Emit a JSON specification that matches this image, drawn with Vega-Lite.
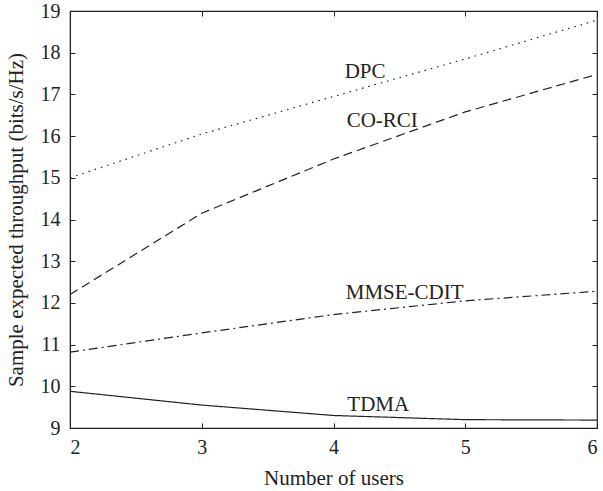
{
  "$schema": "https://vega.github.io/schema/vega-lite/v6.json",
  "width": 527,
  "height": 417,
  "autosize": {"type": "none"},
  "padding": {"left": 70, "top": 11, "right": 6, "bottom": 63},
  "background": "white",
  "config": {
    "font": "Liberation Serif",
    "view": {"stroke": "#222", "strokeWidth": 1.2},
    "axis": {
      "domainColor": "#222",
      "tickColor": "#222",
      "labelColor": "#222",
      "titleColor": "#222",
      "labelFont": "Liberation Serif",
      "titleFont": "Liberation Serif",
      "labelFontSize": 20,
      "titleFontSize": 21,
      "titleFontWeight": "normal",
      "grid": false,
      "tickSize": -5,
      "tickWidth": 1
    }
  },
  "datasets": {
    "curves": [
      {"users": 2, "throughput": 15.0, "scheme": "DPC"},
      {"users": 3, "throughput": 16.05, "scheme": "DPC"},
      {"users": 4, "throughput": 16.95, "scheme": "DPC"},
      {"users": 5, "throughput": 17.85, "scheme": "DPC"},
      {"users": 6, "throughput": 18.78, "scheme": "DPC"},
      {"users": 2, "throughput": 12.2, "scheme": "CO-RCI"},
      {"users": 3, "throughput": 14.15, "scheme": "CO-RCI"},
      {"users": 4, "throughput": 15.45, "scheme": "CO-RCI"},
      {"users": 5, "throughput": 16.58, "scheme": "CO-RCI"},
      {"users": 6, "throughput": 17.48, "scheme": "CO-RCI"},
      {"users": 2, "throughput": 10.82, "scheme": "MMSE-CDIT"},
      {"users": 3, "throughput": 11.28, "scheme": "MMSE-CDIT"},
      {"users": 4, "throughput": 11.72, "scheme": "MMSE-CDIT"},
      {"users": 5, "throughput": 12.05, "scheme": "MMSE-CDIT"},
      {"users": 6, "throughput": 12.28, "scheme": "MMSE-CDIT"},
      {"users": 2, "throughput": 9.88, "scheme": "TDMA"},
      {"users": 3, "throughput": 9.55, "scheme": "TDMA"},
      {"users": 4, "throughput": 9.3, "scheme": "TDMA"},
      {"users": 5, "throughput": 9.2, "scheme": "TDMA"},
      {"users": 6, "throughput": 9.19, "scheme": "TDMA"}
    ],
    "labels": [
      {"users": 4.24, "throughput": 17.54, "scheme": "DPC"},
      {"users": 4.37, "throughput": 16.36, "scheme": "CO-RCI"},
      {"users": 4.54, "throughput": 12.24, "scheme": "MMSE-CDIT"},
      {"users": 4.34, "throughput": 9.55, "scheme": "TDMA"}
    ]
  },
  "layer": [
    {
      "data": {"name": "curves"},
      "mark": {"type": "line", "color": "#222", "strokeWidth": 1.2},
      "encoding": {
        "x": {
          "field": "users", "type": "quantitative",
          "scale": {"domain": [2, 6], "nice": false, "zero": false},
          "axis": {"title": "Number of users", "values": [2, 3, 4, 5, 6], "format": "d", "labelPadding": 14, "titlePadding": 10}
        },
        "y": {
          "field": "throughput", "type": "quantitative",
          "scale": {"domain": [9, 19], "nice": false, "zero": false},
          "axis": {"title": "Sample expected throughput (bits/s/Hz)", "values": [9, 10, 11, 12, 13, 14, 15, 16, 17, 18, 19], "labelPadding": 15, "titlePadding": 14}
        },
        "strokeDash": {
          "field": "scheme", "type": "nominal",
          "scale": {
            "domain": ["DPC", "CO-RCI", "MMSE-CDIT", "TDMA"],
            "range": [[1.5, 5], [9, 5], [9, 4, 2, 4], [1, 0]]
          },
          "legend": null
        }
      }
    },
    {
      "data": {"name": "labels"},
      "mark": {"type": "text", "font": "Liberation Serif", "fontSize": 21, "color": "#222", "align": "center", "baseline": "middle"},
      "encoding": {
        "x": {
          "field": "users", "type": "quantitative",
          "axis": {"orient": "top", "title": null, "labels": false, "domain": false, "values": [2, 3, 4, 5, 6]}
        },
        "y": {
          "field": "throughput", "type": "quantitative",
          "axis": {"orient": "right", "title": null, "labels": false, "domain": false, "values": [9, 10, 11, 12, 13, 14, 15, 16, 17, 18, 19]}
        },
        "text": {"field": "scheme"}
      }
    }
  ],
  "resolve": {"axis": {"x": "independent", "y": "independent"}}
}
